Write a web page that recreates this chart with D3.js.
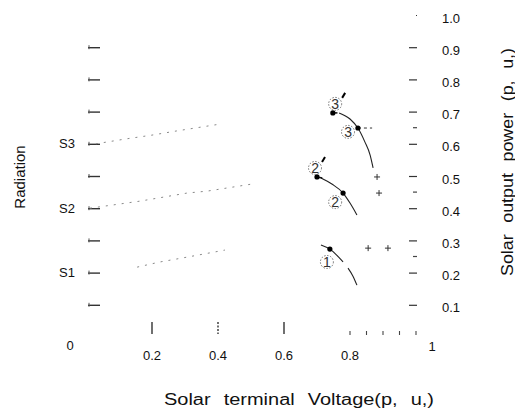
<!DOCTYPE html>
<html>
<head>
<meta charset="utf-8">
<script src="https://cdn.jsdelivr.net/npm/d3@7"></script>
<style>
  html, body { margin: 0; padding: 0; background: #fff; }
  svg { display: block; font-family: "Liberation Sans", Arial, sans-serif; }
</style>
</head>
<body>
<svg id="chart" width="515" height="415"></svg>
<script>
// ---- data (per unit) ----
const leftTicks = [0.1, 0.2, 0.3, 0.4, 0.5, 0.6, 0.7, 0.8, 0.9];
const radiationLabels = [ {v: 0.2, t: "S1"}, {v: 0.4, t: "S2"}, {v: 0.6, t: "S3"} ];
const rightTicks = [0.1, 0.2, 0.3, 0.4, 0.5, 0.6, 0.7, 0.8, 0.9, 1.0];
const rightMinor = [0.25, 0.45, 0.65];
const xMajor = [0.2, 0.4, 0.6];
const xLabels = [0.2, 0.4, 0.6, 0.8];
const xMinor = [0.8, 0.85, 0.9, 0.95, 1.0];

// faint current/voltage traces from each radiation level
const traceS3 = [[0.03,0.600],[0.12,0.615],[0.20,0.627],[0.275,0.640],[0.405,0.661]];
const traceS2 = [[0.012,0.400],[0.164,0.422],[0.306,0.447],[0.367,0.453],[0.503,0.475]];
const traceS1 = [[0.155,0.217],[0.224,0.233],[0.306,0.248],[0.421,0.270]];

// power curves near maximum power point
const curve3 = [[0.767,0.696],[0.800,0.677],[0.824,0.649],[0.845,0.606],[0.861,0.565],[0.870,0.525]];
const curve2 = [[0.712,0.494],[0.745,0.475],[0.779,0.447],[0.800,0.416],[0.821,0.379]];
const curve1a = [[0.712,0.286],[0.739,0.273],[0.779,0.233]];
const curve1b = [[0.794,0.214],[0.809,0.189],[0.821,0.161]];

// operating points (dots)
const dots = [[0.748,0.696],[0.824,0.649],[0.700,0.497],[0.779,0.447],[0.739,0.273]];
// short dash next to primed dots
const primeDash = [[0.700,0.497,0.716,0.494],[0.748,0.696,0.762,0.696]];
// dashed line from point 3
const dash3 = [[0.824,0.649],[0.867,0.649]];
// plus markers
const plusMarks = [[0.882,0.497],[0.888,0.447],[0.855,0.276],[0.915,0.276]];
// circled labels
const circLabels = [
  {x:0.755, y:0.724, t:"3", prime:true},
  {x:0.794, y:0.637, t:"3", prime:false},
  {x:0.694, y:0.525, t:"2", prime:true},
  {x:0.755, y:0.419, t:"2", prime:false},
  {x:0.730, y:0.233, t:"1", prime:false}
];

// ---- scales ----
const svg = d3.select("#chart");
const x = d3.scaleLinear().domain([0, 1]).range([86, 416]);
const y = d3.scaleLinear().domain([0, 1]).range([337, 15]);
const ink = "#111";

// left axis (Radiation)
const labMap = new Map(radiationLabels.map(d => [d.v, d.t]));
const leftAxis = d3.axisLeft(y).tickValues(leftTicks).tickSize(12).tickPadding(13)
  .tickFormat(v => labMap.get(v) || "");
svg.append("g").attr("transform", "translate(100,0)").call(leftAxis)
  .call(g => g.select(".domain").remove())
  .call(g => g.selectAll("line").attr("stroke", "#333").attr("stroke-width", 1.4))
  .call(g => g.selectAll("text").attr("font-size", 13).attr("fill", ink)
      .attr("font-family", "'Liberation Sans', Arial, sans-serif"));
// small end caps on left ticks
svg.append("g").selectAll("line").data(leftTicks).join("line")
  .attr("x1", 89).attr("x2", 89).attr("y1", d => y(d) - 2).attr("y2", d => y(d) + 2)
  .attr("stroke", "#555").attr("stroke-width", 1);

// right axis (power)
const rightAxis = d3.axisRight(y).tickValues(rightTicks).tickSize(8).tickPadding(25)
  .tickFormat(d3.format(".1f"));
svg.append("g").attr("transform", "translate(409,0)").call(rightAxis)
  .call(g => g.select(".domain").remove())
  .call(g => g.selectAll("line").attr("stroke", "#333").attr("stroke-width", 1.2)
      .attr("x1", d => d === 1 ? 7 : 0))
  .call(g => g.selectAll("text").attr("font-size", 13).attr("fill", ink).attr("dy", "0.55em")
      .attr("font-family", "'Liberation Sans', Arial, sans-serif"));
svg.append("g").selectAll("line").data(rightMinor).join("line")
  .attr("x1", 413).attr("x2", 417).attr("y1", d => y(d)).attr("y2", d => y(d))
  .attr("stroke", "#444").attr("stroke-width", 1.2);

// bottom ticks
svg.append("g").selectAll("line").data(xMajor).join("line")
  .attr("x1", d => x(d)).attr("x2", d => x(d)).attr("y1", 322).attr("y2", 334)
  .attr("stroke", "#333").attr("stroke-width", 1.4)
  .attr("stroke-dasharray", d => d === 0.4 ? "2,1.5" : null);
svg.append("g").selectAll("line").data(xMinor).join("line")
  .attr("x1", d => x(d)).attr("x2", d => x(d)).attr("y1", 331).attr("y2", 335)
  .attr("stroke", "#444").attr("stroke-width", 1.1);
svg.append("g").selectAll("text").data(xLabels).join("text")
  .attr("x", d => x(d)).attr("y", 360).attr("text-anchor", "middle")
  .attr("font-size", 13).attr("fill", ink).text(d => d.toFixed(1));
svg.append("text").attr("x", x(1) + 16).attr("y", 351).attr("text-anchor", "middle")
  .attr("font-size", 13).attr("fill", ink).text("1");
svg.append("text").attr("x", 70).attr("y", 350).attr("text-anchor", "middle")
  .attr("font-size", 13).attr("fill", ink).text("0");

// faint traces
const line = d3.line().x(d => x(d[0])).y(d => y(d[1]));
[traceS3, traceS2, traceS1].forEach(t => {
  svg.append("path").attr("d", line(t)).attr("fill", "none")
    .attr("stroke", "#888").attr("stroke-width", 1).attr("stroke-dasharray", "2,6");
});

// power curves
const curveLine = d3.line().x(d => x(d[0])).y(d => y(d[1])).curve(d3.curveMonotoneX);
[curve3, curve2, curve1a, curve1b].forEach(c => {
  svg.append("path").attr("d", curveLine(c)).attr("fill", "none")
    .attr("stroke", "#222").attr("stroke-width", 1.1);
});
svg.append("g").selectAll("line").data(primeDash).join("line")
  .attr("x1", d => x(d[0])).attr("y1", d => y(d[1])).attr("x2", d => x(d[2])).attr("y2", d => y(d[3]))
  .attr("stroke", "#111").attr("stroke-width", 1.5);
svg.append("path").attr("d", line(dash3)).attr("fill", "none")
  .attr("stroke", "#333").attr("stroke-width", 1).attr("stroke-dasharray", "3,3");

// dots
svg.append("g").selectAll("circle").data(dots).join("circle")
  .attr("cx", d => x(d[0])).attr("cy", d => y(d[1])).attr("r", 2.6).attr("fill", "#000");

// plus markers
const pm = svg.append("g").attr("stroke", "#333").attr("stroke-width", 1);
plusMarks.forEach(d => {
  pm.append("line").attr("x1", x(d[0]) - 3).attr("x2", x(d[0]) + 3).attr("y1", y(d[1])).attr("y2", y(d[1]));
  pm.append("line").attr("x1", x(d[0])).attr("x2", x(d[0])).attr("y1", y(d[1]) - 3).attr("y2", y(d[1]) + 3);
});

// circled labels
const cl = svg.append("g").selectAll("g").data(circLabels).join("g")
  .attr("transform", d => `translate(${x(d.x)},${y(d.y)})`);
cl.append("circle").attr("r", 6.5).attr("fill", "none").attr("stroke", "#666")
  .attr("stroke-width", 0.9).attr("stroke-dasharray", "1.5,1.5");
cl.append("text").attr("text-anchor", "middle").attr("dy", "0.36em")
  .attr("font-size", 14).attr("fill", "#333").text(d => d.t);
cl.filter(d => d.prime).append("line")
  .attr("x1", 7).attr("y1", -6).attr("x2", 10).attr("y2", -11)
  .attr("stroke", "#000").attr("stroke-width", 2);

// axis titles
svg.append("text").attr("transform", "translate(25,177) rotate(-90)")
  .attr("text-anchor", "middle").attr("font-size", 15).attr("fill", ink).text("Radiation");
svg.append("text").attr("transform", "translate(513,162) rotate(-90)")
  .attr("text-anchor", "middle").attr("font-size", 16).attr("fill", ink)
  .attr("word-spacing", 6).attr("textLength", 228).attr("lengthAdjust", "spacingAndGlyphs")
  .text("Solar output power (p, u,)");
svg.append("text").attr("x", 299).attr("y", 405)
  .attr("text-anchor", "middle").attr("font-size", 16).attr("fill", ink)
  .attr("word-spacing", 6).attr("textLength", 270).attr("lengthAdjust", "spacingAndGlyphs")
  .text("Solar terminal Voltage(p, u,)");
</script>
</body>
</html>
